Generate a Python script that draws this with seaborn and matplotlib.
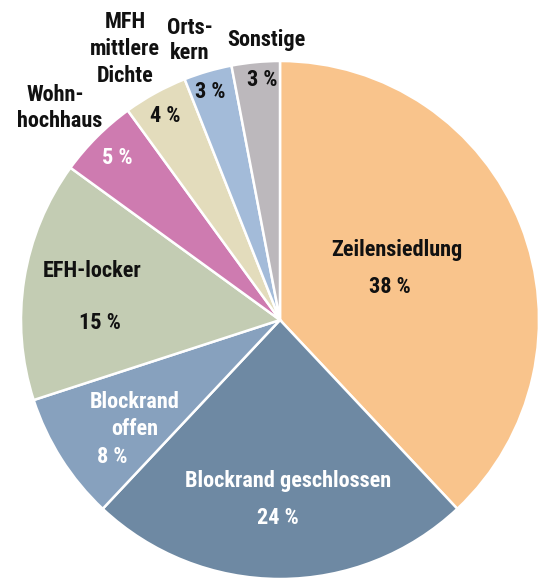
import matplotlib
matplotlib.use("Agg")
import matplotlib.pyplot as plt
from matplotlib import font_manager
import seaborn as sns

sns.set_theme(style="white")
available = {f.name for f in font_manager.fontManager.ttflist}
preferred = ["Roboto Condensed", "Liberation Sans Narrow", "DejaVu Sans Condensed",
             "Roboto", "DejaVu Sans"]
family = [f for f in preferred if f in available] + ["DejaVu Sans"]
plt.rcParams['font.family'] = family
fsize = 16 if family[0] == "Roboto Condensed" else 13

categories = ["Zeilensiedlung", "Blockrand geschlossen", "Blockrand offen", "EFH-locker",
              "Wohnhochhaus", "MFH mittlere Dichte", "Ortskern", "Sonstige"]
values = [38, 24, 8, 15, 5, 4, 3, 3]
colors = ["#F9C48C", "#6E89A3", "#87A1BE", "#C3CCB3", "#CE7BB0", "#E3DCBC", "#A3BBD9", "#BCB8BC"]

W, H = 539, 578
cx, cy, R = 280, 320, 259

fig = plt.figure(figsize=(W / 100, H / 100), dpi=100)
ax = fig.add_axes([0, 0, 1, 1])
ax.pie(values, colors=colors, startangle=90, counterclock=False, radius=1,
       wedgeprops=dict(edgecolor="white", linewidth=1.8))
ax.set_xlim((0 - cx) / R, (W - cx) / R)
ax.set_ylim((cy - H) / R, (cy - 0) / R)
ax.set_aspect("equal")
ax.axis("off")

def px(x, y, s, color="#111111", ha="center"):
    fig.text(x / W, 1 - y / H, s, ha=ha, va="center", color=color,
             fontsize=fsize, fontweight="bold")

px(397, 250, "Zeilensiedlung")
px(390, 287, "38 %")
px(288, 481, "Blockrand geschlossen", color="white")
px(278, 518, "24 %", color="white")
px(135, 402, "Blockrand", color="white")
px(135, 429, "offen", color="white")
px(112, 457, "8 %", color="white")
px(92, 271, "EFH-locker")
px(100, 323, "15 %")
px(55, 95, "Wohn-")
px(60, 121, "hochhaus")
px(117, 158, "5 %", color="white")
px(125, 22, "MFH")
px(125, 49, "mittlere")
px(125, 76, "Dichte")
px(165, 116, "4 %")
px(190, 28, "Orts-")
px(190, 53, "kern")
px(210, 92, "3 %")
px(266, 40, "Sonstige")
px(262, 80, "3 %")

fig.savefig("out.png", dpi=100, facecolor="white")
